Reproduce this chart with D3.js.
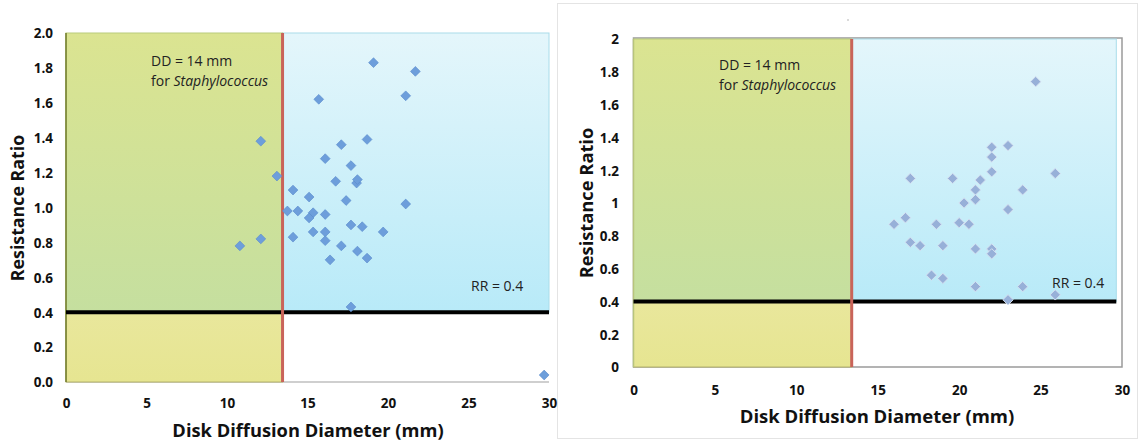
<!DOCTYPE html>
<html><head><meta charset="utf-8">
<script src="https://cdnjs.cloudflare.com/ajax/libs/d3/7.8.5/d3.min.js"></script>
<style>body{margin:0;background:#fff}svg{display:block}text{font-family:"Open Sans",sans-serif}</style>
</head><body><svg id="c" width="1139" height="445"></svg>
<script>
// ---- data ----
const leftDD = [12.1,13.1,14.1,13.75,14.4,19.1,21.7,15.7,21.1,18.7,17.1,16.1,17.7,16.75,18.05,18.1,15.1,17.4,21.1,15.35,16.1,15.1,17.7,18.4,19.7,14.1,15.35,16.1,16.1,17.1,18.1,18.7,16.4,17.7,29.7,10.8,12.1];
const leftRR = [1.38,1.18,1.10,0.98,0.98,1.83,1.78,1.62,1.64,1.39,1.36,1.28,1.24,1.15,1.14,1.16,1.06,1.04,1.02,0.97,0.96,0.94,0.90,0.89,0.86,0.83,0.86,0.86,0.81,0.78,0.75,0.71,0.70,0.43,0.04,0.78,0.82];
const rightDD = [24.7,22.0,22.0,23.0,22.0,17.0,19.6,21.3,25.9,21.0,23.9,20.3,21.0,23.0,16.7,16.0,18.6,20.0,20.6,17.0,17.6,19.0,21.0,22.0,22.0,18.3,19.0,21.0,23.9,23.0,25.9];
const rightRR = [1.74,1.34,1.28,1.35,1.19,1.15,1.15,1.14,1.18,1.08,1.08,1.00,1.02,0.96,0.91,0.87,0.87,0.88,0.87,0.76,0.74,0.74,0.72,0.72,0.69,0.56,0.54,0.49,0.49,0.41,0.44];
const xTicks = [0,5,10,15,20,25,30];
const yTicks = [0,0.2,0.4,0.6,0.8,1.0,1.2,1.4,1.6,1.8,2.0];
const ddCut = [13.45, 13.4];
const rrCut = 0.4;
const xTitle = "Disk Diffusion Diameter (mm)";
const yTitle = "Resistance Ratio";

const svg = d3.select("#c");
const defs = svg.append("defs");
function grad(id, c1, c2){
  const g = defs.append("linearGradient").attr("id",id).attr("x1",0).attr("y1",0).attr("x2",0).attr("y2",1);
  g.append("stop").attr("offset","0%").attr("stop-color",c1);
  g.append("stop").attr("offset","100%").attr("stop-color",c2);
}
grad("gGreen","#dbe491","#c5df9f");
grad("gBlue","#e4f6fb","#b8eaf8");
grad("gYellow","#e9e79c","#e6e591");

// outer frame of right picture
svg.append("rect").attr("x",557.5).attr("y",3.5).attr("width",1137-557).attr("height",438-3)
  .attr("fill","none").attr("stroke","#e4e4e4");
svg.append("circle").attr("cx",848).attr("cy",20).attr("r",0.7).attr("fill","#999");

function panel(cfg){
  const x = d3.scaleLinear().domain([0,30]).range([cfg.x0,cfg.x1]);
  const y = d3.scaleLinear().domain([0,2]).range([cfg.y0,cfg.y1]);
  const g = svg.append("g");
  const cut = cfg.cut;
  if (cfg.frame){
    g.append("rect").attr("x",x(0)).attr("y",y(2)-1).attr("width",x(30)-x(0)).attr("height",y(0)-y(2)+1)
      .attr("fill","#fff").attr("stroke","#9a9a9a").attr("stroke-width",1.5);
  } else {
    g.append("line").attr("x1",x(0)).attr("x2",x(30)).attr("y1",y(0)).attr("y2",y(0)).attr("stroke","#a0a0a0").attr("stroke-width",1.2);
  }
  // blue region
  g.append("rect").attr("x",x(cut)).attr("y",y(2)).attr("width",x(cfg.blueEnd)-x(cut)).attr("height",y(rrCut)-y(2))
    .attr("fill","url(#gBlue)").attr("stroke","#a9dcea").attr("stroke-width",1);
  // green region
  g.append("rect").attr("x",x(0)).attr("y",y(2)).attr("width",x(cut)-x(0)).attr("height",y(rrCut)-y(2))
    .attr("fill","url(#gGreen)").attr("stroke","#b9cc7c").attr("stroke-width",1);
  // yellow region
  g.append("rect").attr("x",x(0)).attr("y",y(rrCut)).attr("width",x(cut)-x(0)).attr("height",y(0)-y(rrCut))
    .attr("fill","url(#gYellow)").attr("stroke","#b5b36a").attr("stroke-width",1);
  g.append("line").attr("x1",x(0)).attr("x2",x(0)).attr("y1",y(2)).attr("y2",y(0))
    .attr("stroke",cfg.leftEdge).attr("stroke-width",1.5);
  // threshold lines
  g.append("line").attr("x1",x(0)).attr("x2",x(cfg.blueEnd)).attr("y1",y(rrCut)).attr("y2",y(rrCut))
    .attr("stroke","#000").attr("stroke-width",4);
  g.append("line").attr("x1",x(cut)).attr("x2",x(cut)).attr("y1",y(0)).attr("y2",y(2))
    .attr("stroke","#c9645a").attr("stroke-width",3);
  // points
  const sym = d3.symbol().type(d3.symbolSquare).size(cfg.msize);
  g.selectAll("path.pt").data(cfg.dd.map((d,i)=>[d,cfg.rr[i]])).join("path")
    .attr("class","pt").attr("d",sym)
    .attr("transform",d=>`translate(${x(d[0])},${y(d[1])}) rotate(45)`)
    .attr("fill",cfg.mfill).attr("stroke",cfg.mstroke).attr("stroke-width",cfg.msw);
  // axes (tick labels only)
  const xa = d3.axisBottom(x).tickValues(xTicks).tickSize(0).tickPadding(0).tickFormat(d3.format("d"));
  const xg = g.append("g").attr("transform",`translate(0,${cfg.xLabY})`).call(xa);
  xg.select(".domain").remove();
  xg.selectAll("text").attr("dy",0).attr("font-size",13.5).attr("font-weight","bold").attr("fill","#111");
  const ya = d3.axisLeft(y).tickValues(yTicks).tickSize(0).tickPadding(0).tickFormat(cfg.yFmt);
  const yg = g.append("g").attr("transform",`translate(${cfg.yLabX},0)`).call(ya);
  yg.select(".domain").remove();
  yg.selectAll("text").attr("dy","0.36em").attr("font-size",13.5).attr("font-weight","bold").attr("fill","#111");
  // titles
  g.append("text").attr("x",cfg.xtX).attr("y",cfg.xtY).attr("text-anchor","middle")
    .attr("font-size",cfg.xfs).attr("font-weight","bold").attr("fill","#111").text(xTitle);
  g.append("text").attr("transform",`translate(${cfg.ytX},${cfg.ytY}) rotate(-90)`).attr("text-anchor","middle")
    .attr("font-size",cfg.yfs).attr("font-weight","bold").attr("fill","#111").text(yTitle);
  // annotations
  const a = g.append("text").attr("x",cfg.annX).attr("y",cfg.annY).attr("font-size",14).attr("fill","#222");
  a.append("tspan").attr("x",cfg.annX).text("DD = 14 mm");
  a.append("tspan").attr("x",cfg.annX).attr("dy",19.5).text("for ");
  a.append("tspan").attr("font-style","italic").text("Staphylococcus");
  g.append("text").attr("x",cfg.rrX).attr("y",cfg.rrY).attr("font-size",14).attr("fill","#222").text("RR = 0.4");
}

panel({x0:66,x1:549,y0:382,y1:33,cut:ddCut[0],blueEnd:30,frame:false,leftEdge:"#6f7a2a",
  dd:leftDD,rr:leftRR,msize:48,mfill:"#6d9edb",mstroke:"#5b8ccc",msw:0.6,
  xLabY:408,yLabX:53,yFmt:d3.format(".1f"),xtX:308,xtY:437,ytX:24,ytY:208,xfs:18.3,yfs:17.8,
  annX:151,annY:66,rrX:471,rrY:291});
panel({x0:633.5,x1:1122,y0:367,y1:39,cut:ddCut[1],blueEnd:29.65,frame:true,leftEdge:"#b8c47c",
  dd:rightDD,rr:rightRR,msize:54,mfill:"#97b0d8",mstroke:"#d6e1f0",msw:0.9,
  xLabY:395,yLabX:619,yFmt:d=>d3.format("")(+d.toFixed(1)),xtX:877,xtY:423,ytX:593,ytY:203,xfs:18.5,yfs:18.3,
  annX:719,annY:70,rrX:1052,rrY:288});
</script></body></html>
